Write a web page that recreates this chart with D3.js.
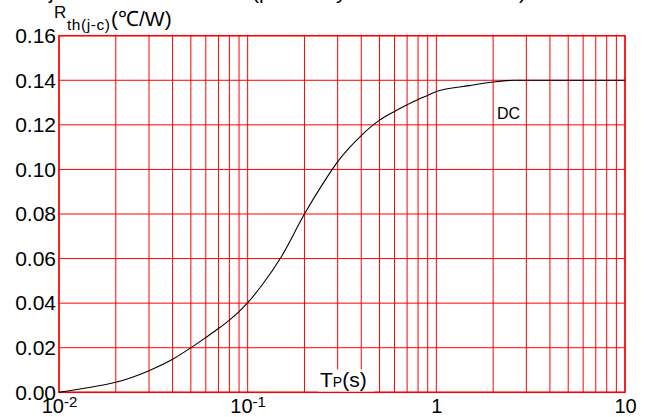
<!DOCTYPE html>
<html>
<head>
<meta charset="utf-8">
<script src="https://cdn.jsdelivr.net/npm/d3@7"></script>
<style>
  body { margin: 0; background: #fff; }
  text { font-family: "Liberation Sans", Arial, sans-serif; fill: #000; }
</style>
</head>
<body>
<div id="chart"></div>
<script>
// pulse width Tp (s) and thermal impedance Rth(j-c) (degC/W)
const tp  = [0.01, 0.015, 0.02, 0.03, 0.04, 0.05, 0.06, 0.07, 0.08, 0.09, 0.1, 0.12, 0.15, 0.2, 0.25, 0.3, 0.4, 0.5, 0.6, 0.7, 0.8, 0.9, 1, 1.5, 2, 2.6, 10];
const rth = [0, 0.0024, 0.0045, 0.0097, 0.0148, 0.02, 0.0246, 0.0286, 0.0324, 0.0362, 0.0402, 0.0485, 0.0605, 0.08, 0.0935, 0.1035, 0.1152, 0.1221, 0.126, 0.129, 0.1314, 0.1332, 0.135, 0.1376, 0.1392, 0.14, 0.14];

const xTickVals = [0.01, 0.1, 1, 10];
const xTickBase = ["10", "10", "1", "10"];
const xTickExp  = ["-2", "-1", "", ""];
const yTicks = [0, 0.02, 0.04, 0.06, 0.08, 0.10, 0.12, 0.14, 0.16];

const W = 645, H = 417;
const margin = {top: 35.7, right: 20, bottom: 24.7, left: 59};

const svg = d3.select("#chart").append("svg")
  .attr("width", W)
  .attr("height", H);

const x = d3.scaleLog()
  .domain([0.01, 10])
  .range([margin.left, W - margin.right]);

const y = d3.scaleLinear()
  .domain([0, 0.16])
  .range([H - margin.bottom, margin.top]);

// grid
svg.append("g")
  .selectAll("line")
  .data(x.ticks())
  .join("line")
  .attr("x1", d => x(d)).attr("x2", d => x(d))
  .attr("y1", y(0)).attr("y2", y(0.16))
  .attr("stroke", "#ff0000")
  .attr("stroke-width", 1);

svg.append("g")
  .selectAll("line")
  .data(yTicks)
  .join("line")
  .attr("x1", x(0.01)).attr("x2", x(10))
  .attr("y1", d => y(d)).attr("y2", d => y(d))
  .attr("stroke", "#ff0000")
  .attr("stroke-width", 1);

svg.append("rect")
  .attr("x", x(0.01)).attr("y", y(0.16))
  .attr("width", x(10) - x(0.01))
  .attr("height", y(0) - y(0.16))
  .attr("fill", "none")
  .attr("stroke", "#ff0000")
  .attr("stroke-width", 1.5);

// curve
const pts = tp.map((t, i) => [t, rth[i]]);
svg.append("path")
  .datum(pts)
  .attr("fill", "none")
  .attr("stroke", "#000")
  .attr("stroke-width", 1.1)
  .attr("d", d3.line()
    .x(d => x(d[0]))
    .y(d => y(d[1]))
    .curve(d3.curveMonotoneX));

// y axis labels
const yAxis = d3.axisLeft(y)
  .tickValues(yTicks)
  .tickFormat(d3.format(".2f"))
  .tickSize(0)
  .tickPadding(3);
const gy = svg.append("g")
  .attr("transform", `translate(${margin.left},0)`)
  .call(yAxis);
gy.select(".domain").remove();
gy.selectAll("text").attr("font-size", 21).attr("font-family", "Liberation Sans, Arial, sans-serif");

// x axis labels with exponents
const xAxis = d3.axisBottom(x)
  .tickValues(xTickVals)
  .tickFormat("")
  .tickSize(0)
  .tickPadding(7);
const gx = svg.append("g")
  .attr("transform", `translate(0,${y(0)})`)
  .call(xAxis);
gx.select(".domain").remove();
gx.selectAll("text")
  .attr("font-size", 20)
  .attr("font-family", "Liberation Sans, Arial, sans-serif")
  .each(function(d, i) {
    const t = d3.select(this);
    t.append("tspan").text(xTickBase[i]);
    if (xTickExp[i]) {
      t.append("tspan").attr("font-size", 15).attr("dy", "-0.45em").text(xTickExp[i]);
    }
  });

// axis titles
const yt = svg.append("g");
yt.append("text").attr("x", 54).attr("y", 18.3).attr("font-size", 17).text("R");
yt.append("text").attr("x", 67).attr("y", 29.5).attr("font-size", 15.5).attr("textLength", 43).text("th(j-c)");
yt.append("text").attr("x", 111).attr("y", 25.5).attr("font-size", 21).text("(℃/W)");

svg.append("rect")
  .attr("x", 318).attr("y", 369.5)
  .attr("width", 56).attr("height", 22)
  .attr("fill", "#fff");
const xt = svg.append("text").attr("x", 320).attr("y", 386.7).attr("font-size", 21);
xt.append("tspan").text("T");
xt.append("tspan").attr("font-size", 14).text("P");
xt.append("tspan").text("(s)");

svg.append("text")
  .attr("x", 497).attr("y", 119.3)
  .attr("font-size", 16)
  .text("DC");

// cut-off heading above the chart: only descenders remain visible
const heading = svg.append("g").attr("font-size", 21);
heading.append("text").attr("x", 49).attr("y", -1).text("j");
heading.append("text").attr("x", 252).attr("y", -1).text("(p");
heading.append("text").attr("x", 336).attr("y", -1).text("y");
heading.append("text").attr("x", 519).attr("y", -1).text(")");
</script>
</body>
</html>
